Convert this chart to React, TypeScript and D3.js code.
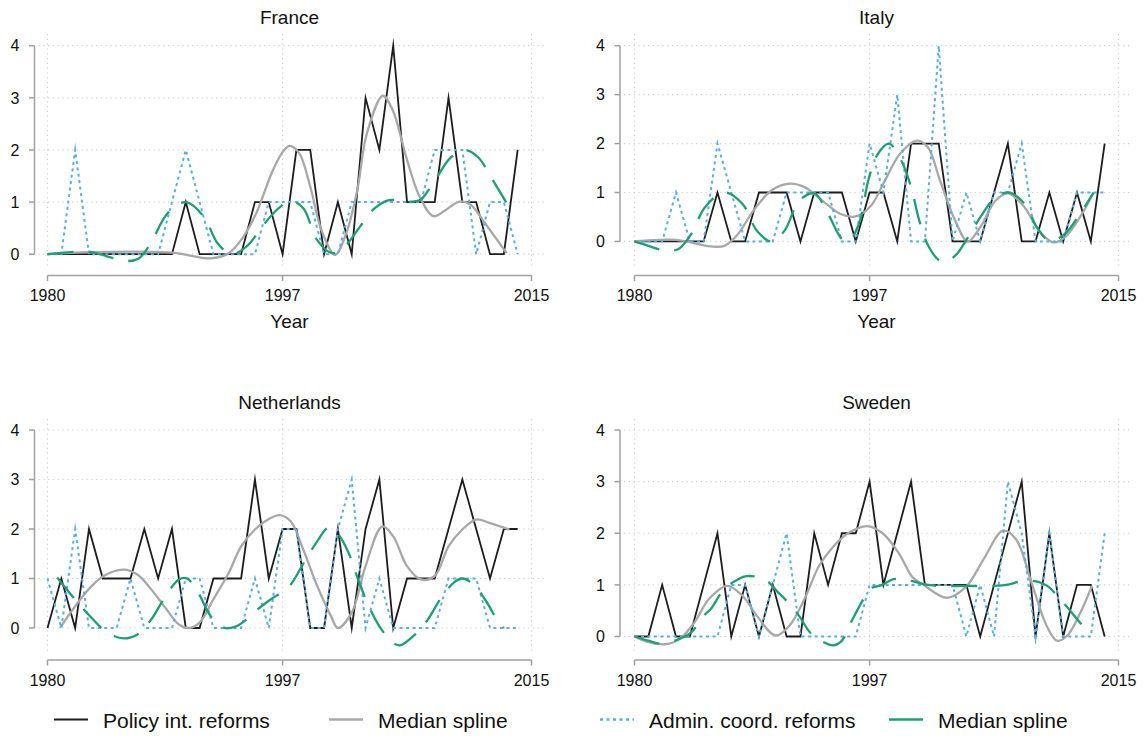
import React from 'react';
import * as d3 from 'd3';

// ---------- DATA ----------
const years = [1980, 1981, 1982, 1983, 1984, 1985, 1986, 1987, 1988, 1989, 1990, 1991, 1992, 1993, 1994, 1995, 1996, 1997, 1998, 1999, 2000, 2001, 2002, 2003, 2004, 2005, 2006, 2007, 2008, 2009, 2010, 2011, 2012, 2013, 2014];
const xTicks = [1980, 1997, 2015];
const yTicks = [0, 1, 2, 3, 4];

const franceReforms = [0, 0, 0, 0, 0, 0, 0, 0, 0, 0, 1, 0, 0, 0, 0, 1, 1, 0, 2, 2, 0, 1, 0, 3, 2, 4, 1, 1, 1, 3, 1, 1, 0, 0, 2];
const franceAdmin = [0, 0, 2, 0, 0, 0, 0, 0, 0, 1, 2, 1, 0, 0, 0, 0, 1, 1, 1, 1, 0, 0, 1, 1, 1, 1, 1, 1, 2, 2, 2, 0, 1, 1, 0];
const franceReformSpline: [number, number][] = [[1980, 0], [1983, 0.04], [1989, 0.03], [1991.8, -0.08], [1993.1, 0.02], [1994.1, 0.31], [1995.1, 0.79], [1996.2, 1.55], [1996.95, 1.94], [1997.5, 2.08], [1998.2, 1.94], [1999, 1.3], [1999.8, 0.47], [2000.8, -0.01], [2001.6, 0.4], [2002.4, 1.23], [2003.1, 2.32], [2004.25, 3.04], [2004.95, 2.77], [2006, 1.81], [2006.9, 1.11], [2007.9, 0.73], [2008.8, 0.85], [2009.8, 1.01], [2010.6, 0.95], [2011.65, 0.59], [2013.2, 0.02]];
const franceAdminSpline: [number, number][] = [[1980, 0], [1983, 0.05], [1984.3, -0.04], [1985.7, -0.13], [1986.6, -0.08], [1987.4, 0.18], [1988.7, 0.79], [1990, 1.0], [1991.3, 0.72], [1992.3, 0.21], [1993.3, 0], [1994.4, 0.15], [1995.7, 0.59], [1996.7, 0.88], [1997.6, 1.02], [1998.5, 0.88], [1999.5, 0.27], [2000.6, 0.02], [2001.6, 0.18], [2002.6, 0.53], [2003.65, 0.88], [2004.7, 1.04], [2006, 1.0], [2007, 1.05], [2007.6, 1.25], [2008.1, 1.45], [2009.1, 1.84], [2010.1, 2.0], [2011.1, 1.87], [2012.2, 1.42], [2013.2, 0.98]];

const italyReforms = [0, 0, 0, 0, 0, 0, 1, 0, 0, 1, 1, 1, 0, 1, 1, 1, 0, 1, 1, 0, 2, 2, 2, 0, 0, 0, 1, 2, 0, 0, 1, 0, 1, 0, 2];
const italyAdmin = [0, 0, 0, 1, 0, 0, 2, 1, 0, 0, 0, 1, 1, 1, 1, 0, 0, 2, 1, 3, 0, 0, 4, 0, 1, 0, 1, 1, 2, 0, 0, 0, 1, 1, 1];
const italyReformSpline: [number, number][] = [[1980, 0], [1983, 0.03], [1985.5, -0.1], [1986.5, -0.09], [1987.4, 0.12], [1988.6, 0.63], [1989.9, 1.04], [1991.2, 1.18], [1992.3, 1.11], [1993.6, 0.83], [1994.9, 0.56], [1996, 0.51], [1997.1, 0.73], [1998.1, 1.24], [1999.2, 1.79], [2000.4, 2.06], [2001.2, 1.93], [2002.1, 1.24], [2003.2, 0.42], [2004.1, 0], [2005, 0.29], [2006.1, 0.83], [2007, 0.98], [2008.2, 0.7], [2009.25, 0.22], [2010.3, -0.02], [2011.1, 0.08], [2012.2, 0.49], [2013.2, 1.0]];
const italyAdminSpline: [number, number][] = [[1980, 0], [1981, -0.09], [1982.1, -0.18], [1983.15, -0.16], [1984.1, 0.15], [1985.1, 0.7], [1986.5, 1.0], [1987.8, 0.77], [1988.85, 0.22], [1989.9, 0], [1990.85, 0.22], [1991.9, 0.83], [1993, 0.98], [1994, 0.56], [1995, 0.05], [1995.5, 0], [1996.3, 0.42], [1996.9, 1.24], [1997.6, 1.79], [1998.4, 2.0], [1999.3, 1.65], [2000, 1.11], [2000.6, 0.42], [2001.3, -0.12], [2002.1, -0.4], [2002.6, -0.4], [2003.3, -0.26], [2004.1, 0.08], [2005, 0.49], [2006.1, 0.9], [2007.1, 1.0], [2008.2, 0.77], [2009.1, 0.29], [2010, 0.01], [2011.1, 0.15], [2012.2, 0.56], [2013.2, 1.0]];

const netherlandsReforms = [0, 1, 0, 2, 1, 1, 1, 2, 1, 2, 0, 0, 1, 1, 1, 3, 1, 2, 2, 0, 0, 2, 0, 2, 3, 0, 1, 1, 1, 2, 3, 2, 1, 2, 2];
const netherlandsAdmin = [1, 0, 2, 0, 0, 0, 1, 0, 0, 0, 1, 1, 0, 0, 0, 1, 0, 2, 2, 0, 0, 2, 3, 0, 1, 0, 0, 0, 0, 1, 1, 1, 0, 0, 0];
const netherlandsReformSpline: [number, number][] = [[1980.9, 0], [1982, 0.44], [1983, 0.79], [1984.05, 1.05], [1985.5, 1.18], [1986.5, 1.08], [1987.5, 0.78], [1988.6, 0.38], [1989.5, 0.07], [1990.2, 0], [1991, 0.11], [1992, 0.58], [1993.1, 1.11], [1994, 1.65], [1995, 1.99], [1996, 2.2], [1996.8, 2.28], [1997.6, 2.15], [1998.5, 1.58], [1999.5, 0.85], [2000.5, 0.24], [2001, 0], [2002, 0.31], [2003, 1.25], [2004.2, 2.05], [2005, 1.85], [2006, 1.25], [2007, 0.98], [2008, 1.05], [2009, 1.65], [2010, 1.99], [2011, 2.19], [2012, 2.12], [2013.4, 1.99]];
const netherlandsAdminSpline: [number, number][] = [[1980.7, 1.02], [1982.1, 0.54], [1983.3, 0.17], [1984.3, -0.09], [1985.5, -0.21], [1986.5, -0.13], [1987.5, 0.17], [1988.4, 0.58], [1989.5, 0.98], [1990.1, 1.0], [1990.9, 0.71], [1991.8, 0.24], [1992.8, 0.0], [1993.6, 0.03], [1994.3, 0.15], [1995, 0.33], [1996, 0.55], [1997.5, 0.85], [1998.5, 1.3], [1999.5, 1.75], [2000.3, 2.02], [2001, 1.9], [2001.8, 1.5], [2002.5, 0.95], [2003.3, 0.4], [2004.2, -0.05], [2005, -0.3], [2005.5, -0.35], [2006.5, -0.15], [2007.5, 0.17], [2008.4, 0.58], [2009.4, 0.92], [2010, 1.0], [2010.8, 0.88], [2011.7, 0.55], [2012.5, 0.17], [2013, 0]];

const swedenReforms = [0, 0, 1, 0, 0, 1, 2, 0, 1, 0, 1, 0, 0, 2, 1, 2, 2, 3, 1, 2, 3, 1, 1, 1, 1, 0, 1, 2, 3, 0, 2, 0, 1, 1, 0];
const swedenAdmin = [0, 0, 0, 0, 0, 0, 0, 1, 1, 0, 1, 2, 0, 0, 0, 0, 0, 1, 1, 1, 1, 1, 1, 1, 0, 1, 0, 3, 2, 0, 2, 0, 0, 0, 2];
const swedenReformSpline: [number, number][] = [[1980, 0], [1981, -0.11], [1982.2, -0.15], [1983.3, -0.04], [1984.35, 0.28], [1985.4, 0.73], [1986.7, 0.98], [1987.8, 0.79], [1988.85, 0.4], [1990.2, 0.02], [1991.2, 0.21], [1992.3, 0.73], [1993.35, 1.37], [1994.4, 1.75], [1995.5, 2.01], [1996.8, 2.14], [1997.9, 2.01], [1999.1, 1.62], [2000.1, 1.15], [2000.9, 1.0], [2002.6, 0.75], [2004.0, 0.97], [2005.25, 1.5], [2006.65, 2.05], [2007.6, 1.88], [2008.7, 1.05], [2009.8, 0.21], [2010.55, -0.08], [2011.27, 0.01], [2012.24, 0.46], [2013.08, 0.98]];
const swedenAdminSpline: [number, number][] = [[1980, 0], [1981, -0.08], [1982, -0.14], [1983.3, -0.04], [1984.1, 0.08], [1985, 0.4], [1985.5, 0.53], [1986.5, 0.92], [1987.5, 1.11], [1988.1, 1.17], [1989.4, 1.11], [1990.4, 0.85], [1991, 0.69], [1991.9, 0.4], [1992.8, 0.05], [1994.3, -0.17], [1994.9, -0.11], [1995.7, 0.3], [1996.5, 0.7], [1997, 0.92], [1997.9, 1.0], [1998.6, 1.1], [1999.2, 1.12], [2000, 1.08], [2001, 1.01], [2002, 0.98], [2004, 0.98], [2006, 0.98], [2007.1, 1.01], [2008.1, 1.08], [2009.2, 1.06], [2009.9, 0.97], [2010.8, 0.72], [2012, 0.34], [2013, 0.02]];

const panelNames = ['France', 'Italy', 'Netherlands', 'Sweden'];
const reformSeries = [franceReforms, italyReforms, netherlandsReforms, swedenReforms];
const adminSeries = [franceAdmin, italyAdmin, netherlandsAdmin, swedenAdmin];
const reformSplines = [franceReformSpline, italyReformSpline, netherlandsReformSpline, swedenReformSpline];
const adminSplines = [franceAdminSpline, italyAdminSpline, netherlandsAdminSpline, swedenAdminSpline];

const legendLabels = ['Policy int. reforms', 'Median spline', 'Admin. coord. reforms', 'Median spline'];

// ---------- STYLE / LAYOUT ----------
const FONT = '"Liberation Sans", Arial, Helvetica, sans-serif';
const BLACK = '#1c1c1c';
const GRAY = '#a8a8a8';
const BLUE = '#5aaee3';
const GREEN = '#1f9e74';
const AXIS = '#a0a0a0';
const GRID = '#cfcfcf';

const seriesStyle = [
  { color: BLACK, width: 1.8, dash: undefined as string | undefined },
  { color: GRAY, width: 2.3, dash: undefined as string | undefined },
  { color: BLUE, width: 2, dash: '3 3.5' },
  { color: GREEN, width: 2.3, dash: '26 15' },
];

const COLS = [
  { axisX: 34.5, x0: 47.5, x1: 531.5 },
  { axisX: 620, x0: 634.5, x1: 1118.5 },
];
const ROWS = [
  { top: 45.7, titleY: 24, axisY: 275.5, gridTop: 34, gridBottom: 269, xTitle: true },
  { top: 430, titleY: 408.5, axisY: 660, gridTop: 419, gridBottom: 653, xTitle: false },
];
const PLOT_H = 215.3;

const legendPos = [
  { x1: 54, x2: 88, tx: 103 },
  { x1: 329, x2: 363, tx: 378 },
  { x1: 600, x2: 634, tx: 649 },
  { x1: 889, x2: 923, tx: 938 },
];

function Panel({ idx }: { idx: number }) {
  const c = COLS[idx % 2];
  const r = ROWS[Math.floor(idx / 2)];
  const reforms = reformSeries[idx];
  const admin = adminSeries[idx];
  const rSpl = reformSplines[idx];
  const aSpl = adminSplines[idx];

  const x = d3.scaleLinear().domain([1980, 2015]).range([c.x0, c.x1]);
  const allVals = [...reforms, ...admin, ...rSpl.map((d) => d[1]), ...aSpl.map((d) => d[1])];
  const minV = Math.min(0, d3.min(allVals) as number);
  const y = d3.scaleLinear().domain([minV, 4]).range([r.top + PLOT_H, r.top]);

  const straight = d3
    .line<[number, number]>()
    .x((d) => x(d[0]))
    .y((d) => y(d[1]));
  const smooth = d3
    .line<[number, number]>()
    .x((d) => x(d[0]))
    .y((d) => y(d[1]))
    .curve(d3.curveCatmullRom.alpha(0.5));

  const reformPts = years.map((yr, i) => [yr, reforms[i]] as [number, number]);
  const adminPts = years.map((yr, i) => [yr, admin[i]] as [number, number]);

  const paths = [straight(reformPts), smooth(rSpl), straight(adminPts), smooth(aSpl)];

  return (
    <g>
      <text x={(c.x0 + c.x1) / 2} y={r.titleY} textAnchor="middle" fontSize={19} fill="#111">
        {panelNames[idx]}
      </text>
      {/* grid */}
      {yTicks.map((t) => (
        <line key={'gy' + t} x1={c.axisX + 4} x2={c.x1 + 14} y1={y(t)} y2={y(t)} stroke={GRID} strokeWidth={1.2} strokeDasharray="1.2 3.6" />
      ))}
      {xTicks.map((t) => (
        <line key={'gx' + t} x1={x(t)} x2={x(t)} y1={r.gridTop} y2={r.gridBottom} stroke={GRID} strokeWidth={1.2} strokeDasharray="1.2 3.6" />
      ))}
      {/* y axis */}
      <line x1={c.axisX} x2={c.axisX} y1={y(0)} y2={y(4)} stroke={AXIS} strokeWidth={1.5} />
      {yTicks.map((t) => (
        <g key={'yt' + t}>
          <line x1={c.axisX - 5.5} x2={c.axisX} y1={y(t)} y2={y(t)} stroke={AXIS} strokeWidth={1.5} />
          <text x={c.axisX - 15} y={y(t)} dy="0.36em" textAnchor="end" fontSize={16} fill="#111">
            {t}
          </text>
        </g>
      ))}
      {/* x axis */}
      <line x1={x(1980)} x2={x(2015)} y1={r.axisY} y2={r.axisY} stroke={AXIS} strokeWidth={1.5} />
      {xTicks.map((t) => (
        <g key={'xt' + t}>
          <line x1={x(t)} x2={x(t)} y1={r.axisY} y2={r.axisY + 5.5} stroke={AXIS} strokeWidth={1.5} />
          <text x={x(t)} y={r.axisY + 25.5} textAnchor="middle" fontSize={16} fill="#111">
            {t}
          </text>
        </g>
      ))}
      {r.xTitle && (
        <text x={(x(1980) + x(2015)) / 2} y={r.axisY + 52.5} textAnchor="middle" fontSize={19} fill="#111">
          Year
        </text>
      )}
      {/* series */}
      {paths.map((p, i) => (
        <path
          key={'s' + i}
          d={p || ''}
          fill="none"
          stroke={seriesStyle[i].color}
          strokeWidth={seriesStyle[i].width}
          strokeDasharray={seriesStyle[i].dash}
          strokeLinejoin="miter"
          strokeMiterlimit={10}
        />
      ))}
    </g>
  );
}

export default function App() {
  return (
    <svg
      width={1144}
      height={738}
      style={{ position: 'absolute', left: 0, top: 0, background: '#fff', fontFamily: FONT }}
    >
      <rect x={0} y={0} width={1144} height={738} fill="#fff" />
      {[0, 1, 2, 3].map((i) => (
        <Panel key={i} idx={i} />
      ))}
      {legendLabels.map((lab, i) => (
        <g key={'lg' + i}>
          <line
            x1={legendPos[i].x1}
            x2={legendPos[i].x2}
            y1={719.5}
            y2={719.5}
            stroke={seriesStyle[i].color}
            strokeWidth={seriesStyle[i].width + 0.4}
            strokeDasharray={i === 2 ? '3 3.5' : undefined}
          />
          <text x={legendPos[i].tx} y={727.5} fontSize={21} fill="#111">
            {lab}
          </text>
        </g>
      ))}
    </svg>
  );
}
